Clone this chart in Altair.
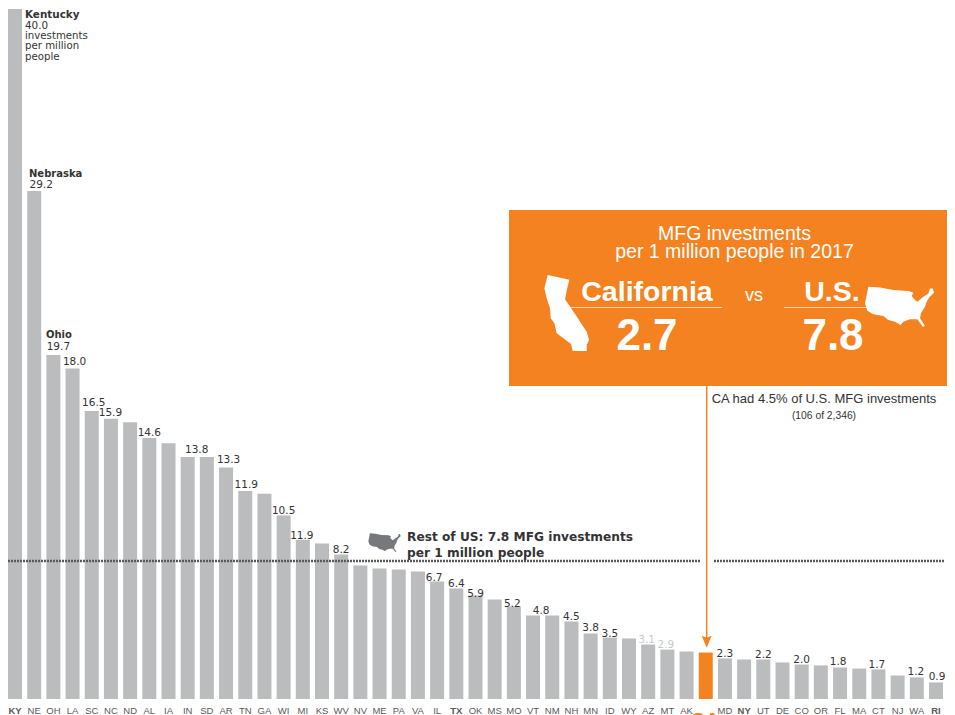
import altair as alt
import pandas as pd

states = ["KY","NE","OH","LA","SC","NC","ND","AL","IA","IN","SD","AR","TN","GA","WI","MI","KS","WV","NV","ME","PA","VA","IL","TX","OK","MS","MO","VT","NM","NH","MN","ID","WY","AZ","MT","AK","CA","MD","NY","UT","DE","CO","OR","FL","MA","CT","NJ","WA","RI"]
bar_values = [39.65,29.2,19.77,19.0,16.55,16.1,15.9,15.0,14.7,13.9,13.9,13.3,11.95,11.8,10.55,9.15,8.94,8.3,7.67,7.5,7.44,7.33,6.75,6.35,5.95,5.72,5.32,4.8,4.8,4.45,3.76,3.53,3.48,3.13,2.84,2.73,2.67,2.33,2.27,2.27,2.1,1.98,1.93,1.81,1.75,1.7,1.35,1.24,0.95]
label_states = ["NE","OH","LA","SC","NC","AL","IN","AR","TN","WI","MI","WV","IL","TX","OK","MO","VT","NH","MN","ID","AZ","MT","MD","UT","CO","FL","CT","WA","RI"]
label_texts = ["29.2","19.7","18.0","16.5","15.9","14.6","13.8","13.3","11.9","10.5","11.9","8.2","6.7","6.4","5.9","5.2","4.8","4.5","3.8","3.5","3.1","2.9","2.3","2.2","2.0","1.8","1.7","1.2","0.9"]
bold_states = ["KY","TX","NY","RI"]
pale_labels = ["AZ","MT"]

# small placement nudges (dx, dy) for value labels, kept apart from the data
nudges = {"NE":(7,-3),"OH":(5,-5),"LA":(2,-3),"SC":(2,-5),"NC":(-0.5,-3),"AL":(0,-2),"IN":(9,-4),"AR":(2.5,-5),"TN":(1,-3),"WI":(0,-1),"MI":(-1,-1),"WV":(0,-2),"IL":(-3,-1),"TX":(0,-2),"OK":(0,2),"MO":(-1.5,1),"VT":(8,-1),"NH":(0,-2),"MN":(0,-3),"ID":(0,-1),"AZ":(-1.5,-2),"MT":(-1.5,-2),"MD":(0,-1),"UT":(0,-1),"CO":(0,-2),"FL":(-2,-3),"CT":(-1.5,-1),"WA":(-1,-2),"RI":(1,-2)}

FONT = "Liberation Sans"
WIDE = "DejaVu Sans"
ORANGE = "#F58220"
GREY = "#BBBCBE"
DARK = "#333333"

def outline(points):
    xs = [p[0] for p in points]; ys = [p[1] for p in points]
    cx, cy = (min(xs)+max(xs))/2, (min(ys)+max(ys))/2
    half = max(max(xs)-min(xs), max(ys)-min(ys))/2
    parts = [f"{(x-cx)/half:.3f},{(y-cy)/half:.3f}" for x, y in points]
    return "M" + "L".join(parts) + "Z"

california = outline([(38,30),(103,44),(96,72),(90,103),(122,150),(155,200),(162,225),(155,240),(155,258),(113,258),(108,237),(88,222),(65,205),(58,175),(47,160),(45,130),(35,100),(28,70)])
usa = outline([(25,20),(60,22),(100,30),(145,33),(160,38),(155,48),(165,60),(172,65),(190,50),(205,40),(210,25),(218,25),(222,38),(208,52),(200,65),(195,80),(183,100),(180,115),(195,138),(188,140),(172,118),(150,118),(130,125),(122,135),(105,125),(85,120),(70,108),(40,103),(22,92),(15,70)])
arrow = "M0,1L-0.83,-1L0,-0.67L0.83,-1Z"

df = pd.DataFrame({"state": states, "value": bar_values})
value_of = dict(zip(states, bar_values))

x_enc = alt.X("state:N", sort=states, title=None,
              scale=alt.Scale(paddingInner=0.27, paddingOuter=0),
              axis=alt.Axis(domain=False, ticks=False, labelAngle=0, labelOverlap=False,
                            labelFont=FONT, labelFontSize=9.5, labelColor="#58595b", labelPadding=6,
                            labelExpr="datum.value == 'CA' ? '' : datum.label",
                            labelFontWeight=alt.condition("indexof(%r, datum.value) >= 0" % bold_states, alt.value("bold"), alt.value("normal"))))
y_enc = alt.Y("value:Q", title=None, axis=None, scale=alt.Scale(domain=[0, 39.71], nice=False))

bars = alt.Chart(df).mark_bar(size=14).encode(
    x=x_enc, y=y_enc,
    color=alt.condition("datum.state == 'CA'", alt.value(ORANGE), alt.value(GREY)))

layers = [bars]

for st, txt in zip(label_states, label_texts):
    dx, dy = nudges[st]
    layers.append(alt.Chart(pd.DataFrame({"state":[st],"value":[value_of[st]]})).mark_text(
        text=txt, dx=dx, dy=dy, baseline="alphabetic", font=WIDE, fontSize=10.5,
        color="#c8c9cb" if st in pale_labels else DARK).encode(x=x_enc, y=y_enc))

def px(v):  # page pixel to plot pixel
    return v - 8

def ann(text, x, y, size=11, weight="normal", color=DARK, align="left", font=FONT):
    return alt.Chart(df.head(1)).mark_text(text=text, fontSize=size, fontWeight=weight, color=color,
                                  align=align, baseline="alphabetic", font=font).encode(
        x=alt.value(px(x)), y=alt.value(px(y)))

def seg(x1, x2, y1, y2, color, width, dash=None):
    kw = {"strokeDash": dash} if dash else {}
    return alt.Chart(df.head(1)).mark_rule(color=color, strokeWidth=width, **kw).encode(
        x=alt.value(px(x1)), x2=alt.value(px(x2)), y=alt.value(px(y1)), y2=alt.value(px(y2)))

def icon(path, x, y, span, color):
    return alt.Chart(df.head(1)).mark_point(shape=path, filled=True, size=span**2, color=color, opacity=1, strokeWidth=0).encode(
        x=alt.value(px(x)), y=alt.value(px(y)))

# average line with gap at the callout arrow
layers += [seg(8, 700, 561, 561, "#58595b", 2.5, [2, 1]), seg(714, 945, 561, 561, "#58595b", 2.5, [2, 1])]

# orange panel
layers.append(alt.Chart(df.head(1)).mark_rect(color=ORANGE).encode(
    x=alt.value(px(509)), x2=alt.value(px(953)), y=alt.value(px(210)), y2=alt.value(px(386))))

layers += [
    seg(706.7, 706.7, 386, 640, ORANGE, 1.5),
    icon(arrow, 706.7, 641.7, 12, ORANGE),
    ann("Kentucky", 25, 18, 10.4, "bold", font=WIDE), ann("40.0", 25, 29, 10.4, font=WIDE), ann("investments", 25, 39, 10.2, font=WIDE),
    ann("per million", 25, 49, 10.2, font=WIDE), ann("people", 25, 60, 10.2, font=WIDE),
    ann("Nebraska", 29, 177, 10, "bold", font=WIDE), ann("Ohio", 46, 338, 10, "bold", font=WIDE),
    ann("Rest of US: 7.8 MFG investments", 407, 541, 12.2, "bold", font=WIDE),
    ann("per 1 million people", 407, 557, 12.2, "bold", font=WIDE),
    icon(usa, 384.5, 542.7, 32.3, "#77787b"),
    ann("MFG investments", 734.5, 240, 19.5, color="white", align="center"),
    ann("per 1 million people in 2017", 734.5, 258, 19.5, color="white", align="center"),
    ann("California", 647, 301, 28.5, "bold", "white", "center"),
    ann("vs", 754, 301, 18, color="white", align="center"),
    ann("U.S.", 832, 301, 28.5, "bold", "white", "center"),
    seg(570, 722, 307.5, 307.5, "#FBD3AE", 1), seg(784, 870, 307.5, 307.5, "#FBD3AE", 1),
    ann("2.7", 647, 350, 44, "bold", "white", "center"),
    ann("7.8", 833, 350, 44, "bold", "white", "center"),
    icon(california, 566.7, 313, 76, "white"),
    icon(usa, 899.5, 306.7, 69, "white"),
    ann("CA had 4.5% of U.S. MFG investments", 824, 403, 13, align="center"),
    ann("(106 of 2,346)", 824, 419, 10.3, align="center"),
    ann("CA", 705, 727, 20, "bold", ORANGE, "center"),
]

chart = alt.layer(*layers).properties(
    width=935, height=691,
    autosize=alt.AutoSizeParams(type="none"),
    padding={"left": 0, "top": 0, "right": 4, "bottom": 16},
).configure_view(stroke=None)

chart.save("out.html", embed_options={"renderer": "svg", "actions": False})
